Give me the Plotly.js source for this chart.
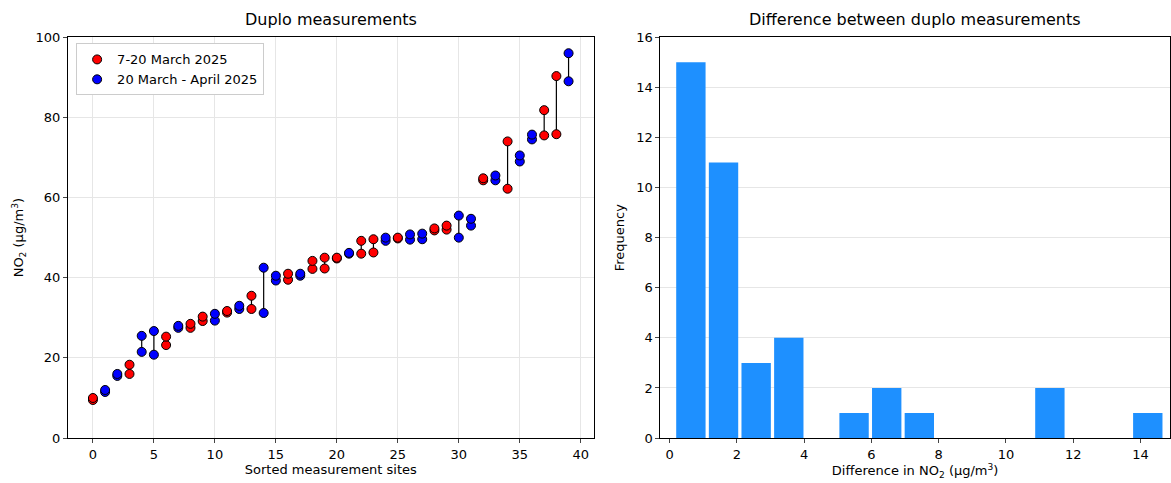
<!DOCTYPE html>
<html>
<head>
<meta charset="utf-8">
<script src="https://cdn.plot.ly/plotly-3.0.1.min.js"></script>
<style>body{margin:0}#chart{width:1171px;height:483px}</style>
</head>
<body>
<div id="chart"></div>
<script>
// sorted sites: period of the duplo pair and the two values
var sites = [];
for (var i = 0; i < 40; i++) sites.push(i);
var period = ["A","B","B","A","B","B","A","B","A","A","B","A","B","A","B","B","A","B","A","A",
              "A","B","A","A","B","A","B","B","A","A","B","B","A","B","A","B","B","A","A","B"];
var valLow  = [9.5,11.5,15.5,16,21.5,20.8,23.2,27.5,27.5,29.2,29.3,31.3,32.2,32.2,31.2,39.3,39.5,40.5,42.2,42.3,
               44.8,46,46,46.3,49.2,49.8,49.5,49.6,51.8,52,50,53,64.3,64.3,62.2,69,74.5,75.5,75.8,89];
var valHigh = [10,12,16,18.3,25.5,26.7,25.3,28,28.5,30.3,31,31.7,33,35.5,42.5,40.5,41,41,44.2,45,
               45,46.2,49.2,49.6,50,50,50.8,51,52.3,53,55.5,54.7,64.8,65.5,74,70.5,75.7,81.8,90.3,96];

// histogram of differences
var binStart = 0.15;
var binWidth = 0.97;
var counts = [15,11,3,4,0,1,2,1,0,0,0,2,0,0,1];

var lx = [], ly = [];
var ax = [], ay = [], bx = [], by = [];
sites.forEach(function(s, i) {
    lx.push(s, s, null);
    ly.push(valLow[i], valHigh[i], null);
    if (period[i] == "A") { ax.push(s, s); ay.push(valLow[i], valHigh[i]); }
    else { bx.push(s, s); by.push(valLow[i], valHigh[i]); }
});

var binCenters = counts.map(function(c, i) { return binStart + binWidth * (i + 0.5); });

var mk = function(col) { return {color: col, size: 9, line: {color: "black", width: 1}}; };

var data = [
    {type: "scatter", mode: "lines", x: lx, y: ly, line: {color: "black", width: 1.2}, showlegend: false, hoverinfo: "skip"},
    {type: "scatter", mode: "markers", name: "7-20 March 2025", x: ax, y: ay, marker: mk("red")},
    {type: "scatter", mode: "markers", name: "20 March - April 2025", x: bx, y: by, marker: mk("blue")},
    {type: "bar", x: binCenters, y: counts, width: binWidth * 0.9, marker: {color: "#1e90ff"},
     xaxis: "x2", yaxis: "y2", showlegend: false}
];

var grid = "#e6e6e6";
var tfont = {size: 13};
var base = {showline: true, mirror: true, linecolor: "black", linewidth: 1, gridcolor: grid,
            ticks: "outside", ticklen: 4, zeroline: false, tickfont: {size: 13}};

var layout = {
    width: 1171, height: 483,
    margin: {l: 0, r: 0, t: 0, b: 0},
    paper_bgcolor: "white", plot_bgcolor: "white",
    font: {family: "DejaVu Sans", color: "black", size: 13},
    xaxis: Object.assign({}, base, {domain: [0.058, 0.507], range: [-2.05, 41.06], dtick: 5,
        title: {text: "Sorted measurement sites", standoff: 4, font: tfont}}),
    yaxis: Object.assign({}, base, {domain: [0.093, 0.923], range: [0, 100], dtick: 20,
        title: {text: "NO<sub>2</sub> (μg/m<sup>3</sup>)", standoff: 8, font: tfont}}),
    xaxis2: Object.assign({}, base, {domain: [0.564, 0.999], range: [-0.27, 14.87], dtick: 2, anchor: "y2", showgrid: false,
        title: {text: "Difference in NO<sub>2</sub> (μg/m<sup>3</sup>)", standoff: 4, font: tfont}}),
    yaxis2: Object.assign({}, base, {domain: [0.093, 0.923], range: [0, 16], dtick: 2, anchor: "x2",
        title: {text: "Frequency", standoff: 8, font: tfont}}),
    legend: {x: 0.065, y: 0.91, xanchor: "left", yanchor: "top", bgcolor: "white",
             bordercolor: "#cccccc", borderwidth: 1, font: {size: 13}},
    annotations: [
        {text: "Duplo measurements", xref: "paper", yref: "paper", x: 0.2825, xanchor: "center", y: 0.935, yanchor: "bottom", showarrow: false, font: {size: 16}},
        {text: "Difference between duplo measurements", xref: "paper", yref: "paper", x: 0.7815, xanchor: "center", y: 0.935, yanchor: "bottom", showarrow: false, font: {size: 16}}
    ]
};

Plotly.newPlot("chart", data, layout, {displayModeBar: false});
</script>
</body>
</html>
